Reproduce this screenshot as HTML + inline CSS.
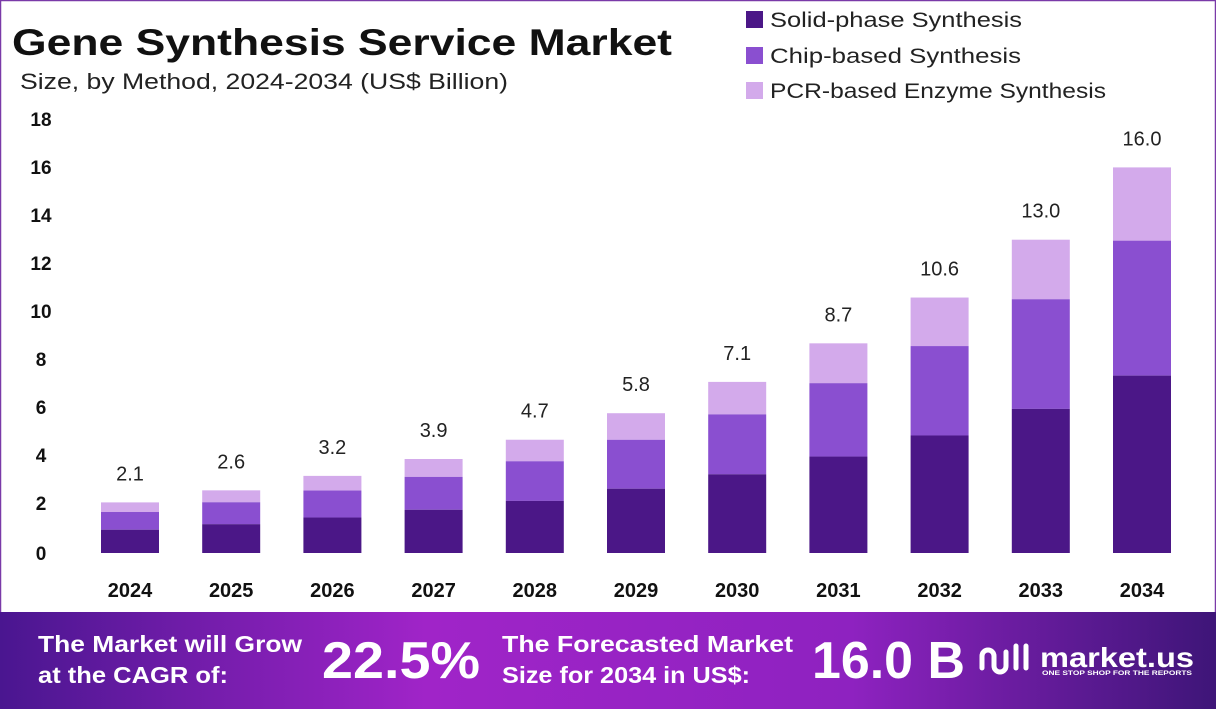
<!DOCTYPE html>
<html><head><style>
body{margin:0;width:1216px;height:709px;overflow:hidden;background:#fff;font-family:"Liberation Sans",sans-serif}
</style></head><body>
<svg width="1216" height="709" viewBox="0 0 1216 709" xmlns="http://www.w3.org/2000/svg" font-family="Liberation Sans, sans-serif">
<defs>
<linearGradient id="bg" x1="0" y1="0" x2="1" y2="0">
<stop offset="0" stop-color="#4a1690"/><stop offset="0.35" stop-color="#a024c8"/><stop offset="0.7" stop-color="#8e22c0"/><stop offset="1" stop-color="#3e1578"/></linearGradient>
</defs>
<rect x="0.5" y="0.5" width="1215" height="708" fill="none" stroke="#7a3aa8" stroke-width="1.5"/>
<text x="12" y="55" font-size="37" font-weight="bold" fill="#111" textLength="660" lengthAdjust="spacingAndGlyphs">Gene Synthesis Service Market</text>
<text x="20" y="89" font-size="22" fill="#222" textLength="488" lengthAdjust="spacingAndGlyphs">Size, by Method, 2024-2034 (US$ Billion)</text>
<rect x="746" y="11" width="17" height="17" fill="#4b1787"/><text x="770" y="27" font-size="21" fill="#222" textLength="252" lengthAdjust="spacingAndGlyphs">Solid-phase Synthesis</text>
<rect x="746" y="47" width="17" height="17" fill="#8a4fd0"/><text x="770" y="63" font-size="21" fill="#222" textLength="251" lengthAdjust="spacingAndGlyphs">Chip-based Synthesis</text>
<rect x="746" y="82" width="17" height="17" fill="#d3aaeb"/><text x="770" y="98" font-size="21" fill="#222" textLength="336" lengthAdjust="spacingAndGlyphs">PCR-based Enzyme Synthesis</text>
<g font-size="19" font-weight="bold" fill="#111" text-anchor="middle">
<text x="41" y="126">18</text><text x="41" y="174">16</text><text x="41" y="222">14</text><text x="41" y="270">12</text><text x="41" y="318">10</text><text x="41" y="366">8</text><text x="41" y="414">6</text><text x="41" y="462">4</text><text x="41" y="510">2</text><text x="41" y="560">0</text>
</g>
<g id="bars"></g>
<rect x="0" y="612" width="1216" height="97" fill="url(#bg)"/>
<g fill="#fff" font-weight="bold">
<text x="38" y="652" font-size="23" textLength="264" lengthAdjust="spacingAndGlyphs">The Market will Grow</text>
<text x="38" y="683" font-size="23" textLength="190" lengthAdjust="spacingAndGlyphs">at the CAGR of:</text>
<text x="322" y="678" font-size="52" textLength="158" lengthAdjust="spacingAndGlyphs">22.5%</text>
<text x="502" y="652" font-size="23" textLength="291" lengthAdjust="spacingAndGlyphs">The Forecasted Market</text>
<text x="502" y="683" font-size="23" textLength="248" lengthAdjust="spacingAndGlyphs">Size for 2034 in US$:</text>
<text x="812" y="678" font-size="52" textLength="153" lengthAdjust="spacingAndGlyphs">16.0 B</text>
<text x="1040" y="667" font-size="28" textLength="154" lengthAdjust="spacingAndGlyphs">market.us</text>
<text x="1042" y="675" font-size="6" textLength="150" lengthAdjust="spacingAndGlyphs">ONE STOP SHOP FOR THE REPORTS</text>
</g>
<path d="M982 668 v-12 a6 6 0 0 1 12 0 v10 a6 6 0 0 0 12 0 v-14 M1016 646 v22 M1026 646 v22" stroke="#fff" stroke-width="5" fill="none" stroke-linecap="round"/>
</svg>
<script>
var t=[2.1,2.6,3.2,3.9,4.7,5.8,7.1,8.7,10.6,13.0,16.0];
var g=document.getElementById('bars'),s='';
for(var i=0;i<11;i++){var cx=130+i*101.2,x=cx-29,v=t[i],k=24.1,b=553;
var d=v*0.46,m=v*0.35;
var yd=b-d*k,ym=yd-m*k,yt=b-v*k;
s+='<rect x="'+x+'" y="'+yt+'" width="58" height="'+(ym-yt)+'" fill="#d3aaeb"/>';
s+='<rect x="'+x+'" y="'+ym+'" width="58" height="'+(yd-ym)+'" fill="#8a4fd0"/>';
s+='<rect x="'+x+'" y="'+yd+'" width="58" height="'+(b-yd)+'" fill="#4b1787"/>';
s+='<text x="'+cx+'" y="'+(yt-22)+'" font-size="20" fill="#222" text-anchor="middle">'+v.toFixed(1)+'</text>';
s+='<text x="'+cx+'" y="597" font-size="20" font-weight="bold" fill="#111" text-anchor="middle">'+(2024+i)+'</text>';}
g.innerHTML=s;
</script>
</body></html>
